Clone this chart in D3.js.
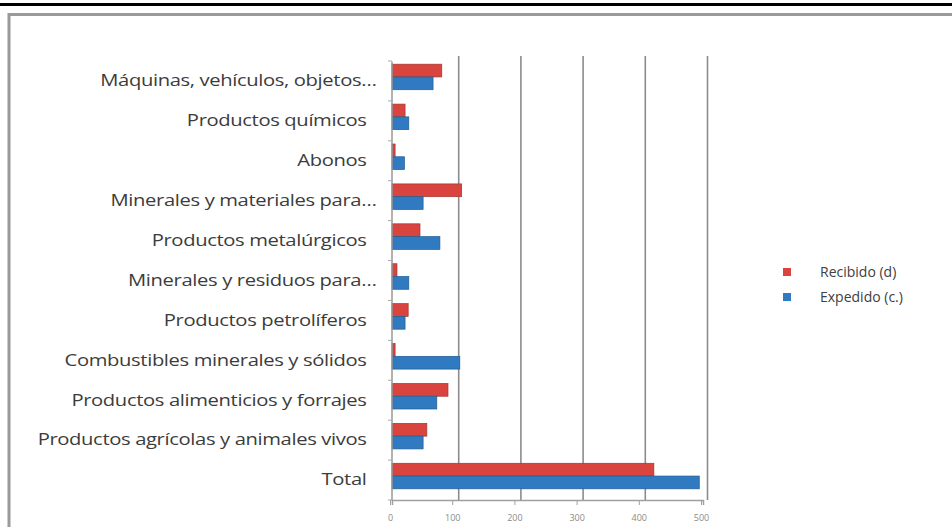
<!DOCTYPE html>
<html><head><meta charset="utf-8">
<script src="https://cdn.jsdelivr.net/npm/d3@7"></script>
<style>body{margin:0;background:#fff;overflow:hidden}svg{display:block}</style>
</head><body>
<svg id="c" width="952" height="527"></svg>
<script>
const categories = ["Máquinas, vehículos, objetos…","Productos químicos","Abonos","Minerales y materiales para…","Productos metalúrgicos","Minerales y residuos para…","Productos petrolíferos","Combustibles minerales y sólidos","Productos alimenticios y forrajes","Productos agrícolas y animales vivos","Total"];
const recibido = [80,21,5,112,45,8,26,5,90,56,421];
const expedido = [66,27,20,50,77,27,21,109,72,50,494];
const xTicks = [0,100,200,300,400,500];
const seriesNames = ["Recibido  (d)","Expedido (c.)"];
const colors = ["#d9453e","#2f7ac0"];

(function(){
const svg = d3.select("#c");
const font = "'Open Sans', sans-serif";

svg.append("rect").attr("x",0).attr("y",3).attr("width",952).attr("height",3).attr("fill","#000");
svg.append("rect").attr("x",9).attr("y",14.5).attr("width",960).attr("height",540)
  .attr("fill","none").attr("stroke","#9a9a9a").attr("stroke-width",3);

const pl = 392, pr = 703, pt = 61, pb = 500, wallShift = 4.5;
const x = d3.scaleLinear().domain([0,500]).range([pl,pr]);
const y = d3.scaleBand().domain(categories).range([pt,pb]).paddingInner(0.36).paddingOuter(0.18);
const yb = d3.scaleBand().domain(categories).range([pt-4,pb-4]).paddingInner(0.36).paddingOuter(0.18);
const y2 = d3.scaleBand().domain([0,1]).range([0,yb.bandwidth()]);

svg.append("g").selectAll("line").data(xTicks.slice(1)).join("line")
  .attr("x1",d=>x(d)+wallShift).attr("x2",d=>x(d)+wallShift).attr("y1",56).attr("y2",pb)
  .attr("stroke","#8c8c8c").attr("stroke-width",1.6);

const data = categories.map((c,i)=>({c, v:[recibido[i],expedido[i]]}));
const g = svg.append("g").selectAll("g").data(data).join("g")
  .attr("transform",d=>`translate(0,${yb(d.c)})`);
g.selectAll("rect").data(d=>d.v.map((v,k)=>({v,k}))).join("rect")
  .attr("x",x(0)).attr("y",d=>y2(d.k)).attr("height",y2.bandwidth())
  .attr("width",d=>x(d.v)-x(0)).attr("fill",d=>colors[d.k])
  .attr("stroke",d=>d3.color(colors[d.k]).darker(0.8)).attr("stroke-width",0.7);

const xa = svg.append("g").attr("transform",`translate(0,${pb})`)
  .call(d3.axisBottom(x).tickValues(xTicks).tickSize(5).tickPadding(10));
xa.select(".domain").attr("stroke","#a0a0a0").attr("stroke-width",1.5);
xa.selectAll(".tick line").attr("stroke","#a0a0a0").attr("transform","translate(-2,0)");
xa.selectAll("text").attr("font-family",font).attr("font-size",9).attr("fill","#8a8a8a").attr("dx",-2);

const ya = svg.append("g").attr("transform",`translate(${pl-0.5},0)`)
  .call(d3.axisLeft(y).tickSize(0).tickPadding(25));
ya.select(".domain").attr("stroke","#999").attr("stroke-width",1.5);
const lbl = ya.selectAll("text").attr("font-family",font).attr("font-size",16.5)
  .attr("font-weight",500).attr("fill","#3c3c3c").attr("letter-spacing",-0.3);
let ref = 0;
lbl.each(function(d){ if(d===categories[9]) ref = this.getComputedTextLength(); });
const sx = 329/ref;
lbl.attr("x",d=>(d.endsWith("…")?-15:-25)/sx).attr("transform",`scale(${sx},1)`);
svg.append("g").selectAll("line").data(d3.range(categories.length+1)).join("line")
  .attr("x1",pl-4).attr("x2",pl).attr("y1",i=>pt+i*(pb-pt)/categories.length).attr("y2",i=>pt+i*(pb-pt)/categories.length)
  .attr("stroke","#aaa");

const lg = svg.append("g").selectAll("g").data(seriesNames).join("g")
  .attr("transform",(d,i)=>`translate(783,${272+i*25})`);
lg.append("rect").attr("x",0).attr("y",-4).attr("width",8).attr("height",8).attr("fill",(d,i)=>colors[i]);
lg.append("text").attr("x",37).attr("y",0).attr("dy","0.35em").text(d=>d)
  .attr("font-family",font).attr("font-size",14).attr("fill","#404040");
})();
</script>
</body></html>
